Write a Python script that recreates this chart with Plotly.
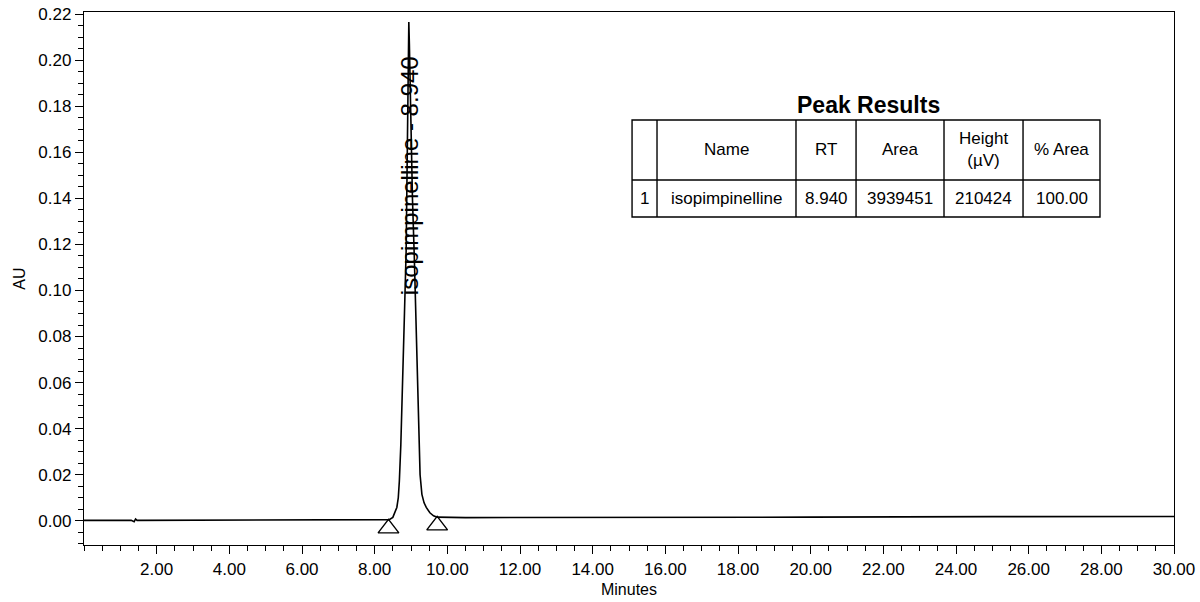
import plotly.graph_objects as go

# ---- chromatogram data ----
time_min = [0.00, 1.30, 1.38, 1.42, 1.46, 1.60, 4.00, 6.00, 8.00, 8.30, 8.40, 8.50, 8.56, 8.61,
            8.65, 8.68, 8.72, 8.775, 8.82, 8.866, 8.89, 8.91, 8.925, 8.94, 8.955, 8.97, 9.00,
            9.04, 9.09, 9.14, 9.185, 9.22, 9.25, 9.30, 9.36, 9.42, 9.52, 9.62, 9.72, 10.50,
            14.00, 20.00, 25.00, 30.00]
absorbance = [0.0002, 0.0002, -0.0004, 0.0008, 0.0002, 0.0002, 0.0003, 0.0003, 0.0003, 0.0003,
              0.0005, 0.0015, 0.0035, 0.0058, 0.0100, 0.0174, 0.0330, 0.0600, 0.0900, 0.1170,
              0.1450, 0.1750, 0.2000, 0.2165, 0.2070, 0.1920, 0.1650, 0.1400, 0.1150, 0.0850,
              0.0600, 0.0360, 0.0200, 0.0115, 0.0078, 0.0058, 0.0035, 0.0022, 0.0016, 0.0014,
              0.0014, 0.0016, 0.0018, 0.0019]

# peak integration marks (start / end)
mark_times = [8.38, 9.72]
mark_baseline = [0.0003, 0.0016]

peak_name = "isopimpinelline"
peak_rt = 8.940
peak_label_y = 0.15

# ---- peak results table ----
table_headers = ["", "Name", "RT", "Area", "Height<br>(µV)", "% Area"]
table_row = ["1", "isopimpinelline", "8.940", "3939451", "210424", "100.00"]

x_ticks = [2, 4, 6, 8, 10, 12, 14, 16, 18, 20, 22, 24, 26, 28, 30]

FONT = "Liberation Sans, Arial, sans-serif"

fig = go.Figure()
fig.add_trace(go.Scatter(x=time_min, y=absorbance, mode="lines",
                         line=dict(color="black", width=1.6), hoverinfo="skip"))

# triangle markers: apex on the baseline (marker center sits ~8px below apex)
tri_offset = 0.0036
fig.add_trace(go.Scatter(x=mark_times, y=[b - tri_offset for b in mark_baseline], mode="markers",
                         marker=dict(symbol="triangle-up-open", size=18,
                                     color="black", line=dict(color="black", width=1.4)),
                         hoverinfo="skip"))

fig.add_annotation(x=peak_rt, y=peak_label_y, xref="x", yref="y",
                   text=f"{peak_name} - {peak_rt:.3f}", textangle=-90, showarrow=False,
                   xanchor="center", yanchor="middle",
                   font=dict(family=FONT, size=24, color="black"))

# table geometry (paper coordinates)
col_edges = [0.5028, 0.5257, 0.6532, 0.7083, 0.7890, 0.8615, 0.9321]
y_top, y_mid, y_bot = 0.7974, 0.6848, 0.6154
line_style = dict(color="black", width=1.4)
fig.add_shape(type="rect", xref="paper", yref="paper", x0=col_edges[0], x1=col_edges[-1],
              y0=y_bot, y1=y_top, line=line_style, fillcolor="white", layer="above")
for xe in col_edges[1:-1]:
    fig.add_shape(type="line", xref="paper", yref="paper", x0=xe, x1=xe, y0=y_bot, y1=y_top,
                  line=line_style)
fig.add_shape(type="line", xref="paper", yref="paper", x0=col_edges[0], x1=col_edges[-1],
              y0=y_mid, y1=y_mid, line=line_style)
for i in range(len(table_headers)):
    xc = (col_edges[i] + col_edges[i + 1]) / 2
    if table_headers[i]:
        fig.add_annotation(x=xc, y=(y_top + y_mid) / 2, xref="paper", yref="paper",
                           text=table_headers[i], showarrow=False, xanchor="center",
                           yanchor="middle", font=dict(family=FONT, size=17, color="black"))
    fig.add_annotation(x=xc, y=(y_mid + y_bot) / 2, xref="paper", yref="paper",
                       text=table_row[i], showarrow=False, xanchor="center", yanchor="middle",
                       font=dict(family=FONT, size=17, color="black"))
fig.add_annotation(x=(col_edges[0] + col_edges[-1]) / 2 + 0.002, y=y_top, xref="paper",
                   yref="paper", text="<b>Peak Results</b>", showarrow=False,
                   xanchor="center", yanchor="bottom",
                   font=dict(family=FONT, size=23, color="black"))

fig.update_layout(
    width=1200, height=602,
    margin=dict(l=84, r=26, t=12, b=57, autoexpand=False),
    paper_bgcolor="white", plot_bgcolor="white",
    showlegend=False,
    font=dict(family=FONT, color="black"),
    xaxis=dict(range=[0, 30], tickvals=x_ticks, tickformat=".2f", automargin=False,
               showline=True, linecolor="black", linewidth=1.4, mirror=True,
               ticks="outside", ticklen=8, tickwidth=1.4, tickcolor="black",
               showgrid=False, zeroline=False,
               tickfont=dict(family=FONT, size=17, color="black"),
               minor=dict(dtick=0.5, tick0=0, ticks="outside", ticklen=5,
                          tickwidth=1.3, tickcolor="black", showgrid=False),
               title=dict(text="Minutes", font=dict(family=FONT, size=16, color="black"),
                          standoff=6)),
    yaxis=dict(range=[-0.0105, 0.2209], dtick=0.02, tick0=0, tickformat=".2f",
               automargin=False,
               showline=True, linecolor="black", linewidth=1.4, mirror=True,
               ticks="outside", ticklen=8, tickwidth=1.4, tickcolor="black",
               showgrid=False, zeroline=False,
               tickfont=dict(family=FONT, size=17, color="black"),
               minor=dict(dtick=0.005, tick0=0, ticks="outside", ticklen=5,
                          tickwidth=1.3, tickcolor="black", showgrid=False),
               title=dict(text="AU", font=dict(family=FONT, size=16, color="black"),
                          standoff=8)),
)

fig.write_html("out.html", config={"displayModeBar": False},
               post_script="document.body.style.margin='0';document.body.style.overflow='hidden';")
